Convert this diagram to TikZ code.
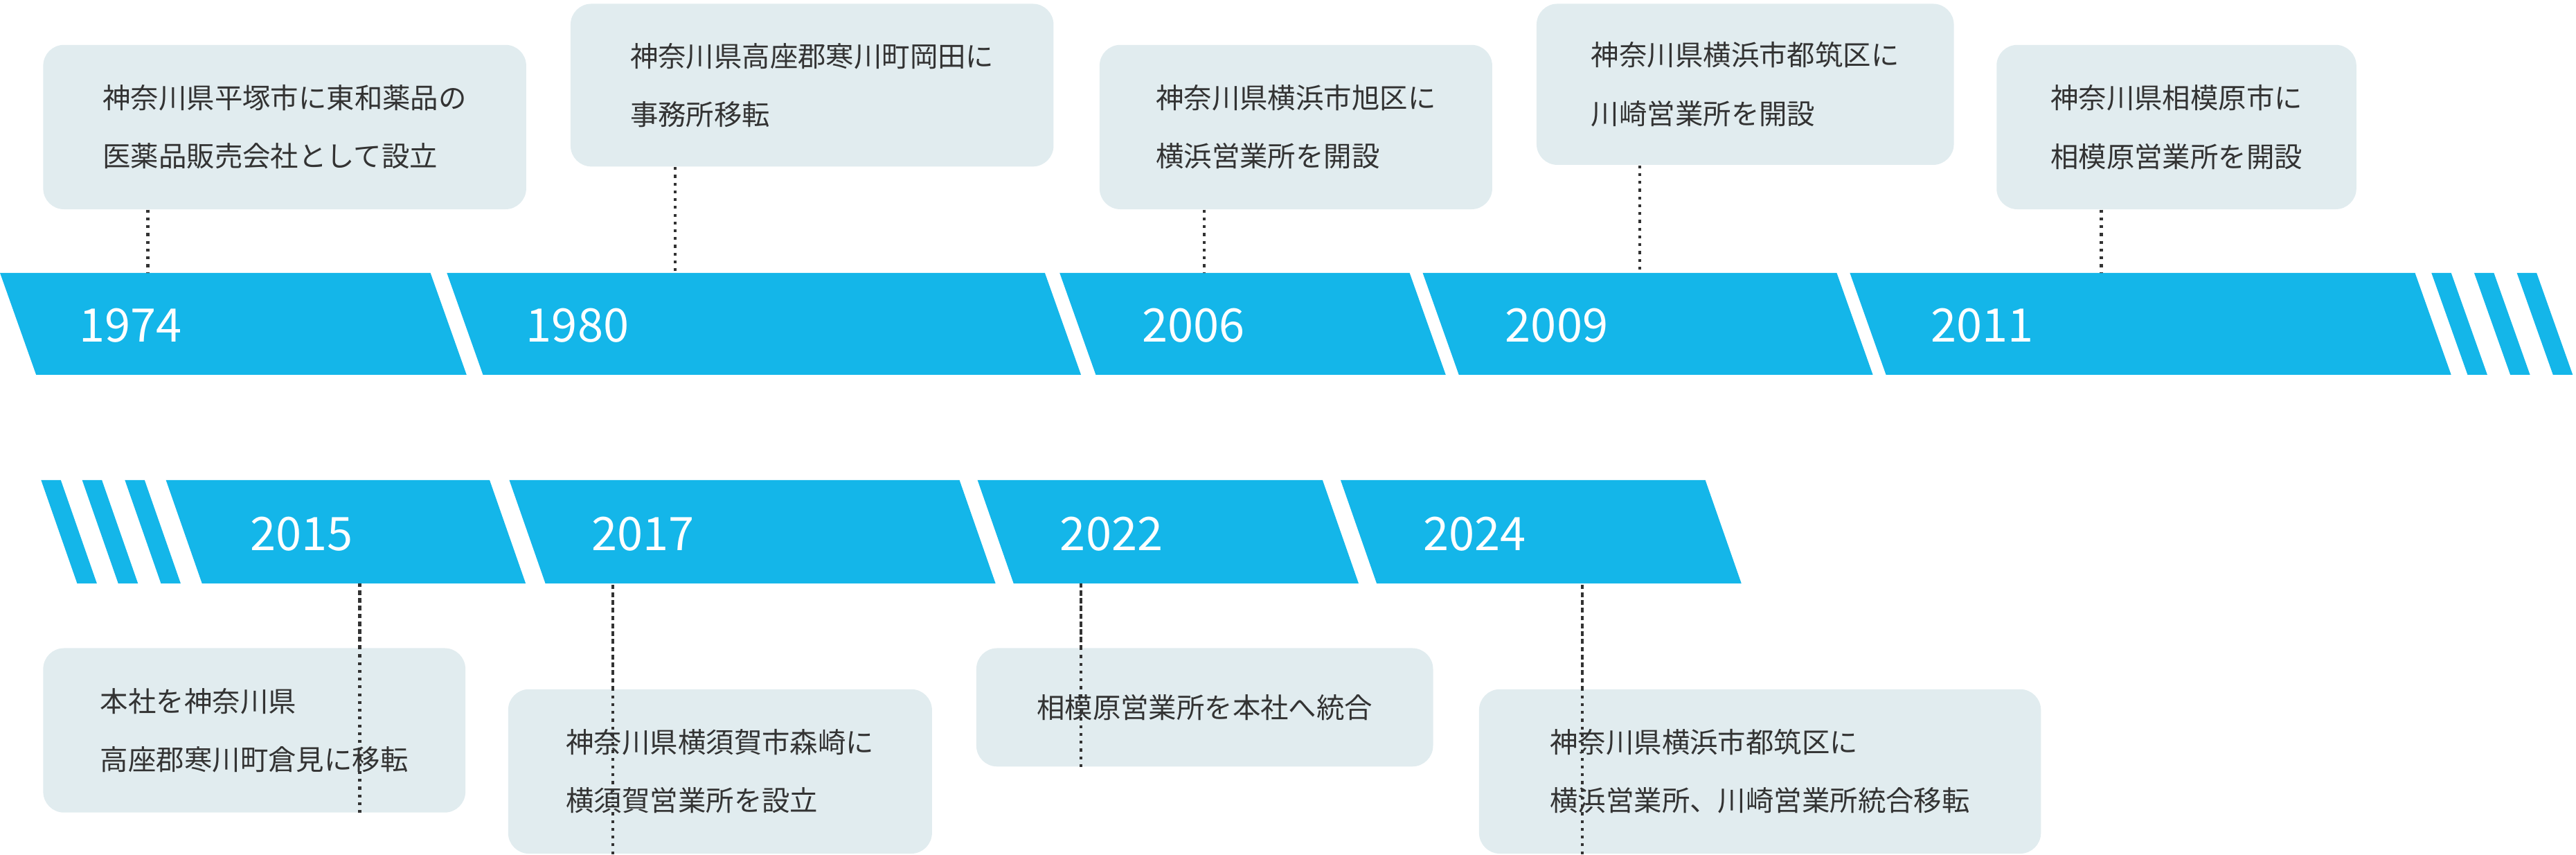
\documentclass[tikz,border=0pt]{standalone}
\usepackage{fontspec}
\setmainfont{Noto Sans CJK JP}
\definecolor{bandblue}{HTML}{14B6E9}
\definecolor{boxgray}{HTML}{E1ECEF}
\definecolor{textgray}{HTML}{333333}
\tikzset{
  band/.style={fill=bandblue, draw=none},
  year/.style={text=white, font=\fontsize{19}{19}\selectfont, anchor=west, inner sep=0pt},
  infobox/.style={fill=boxgray, rounded corners=0.3cm, anchor=north west, inner xsep=0.6cm,
    align=left, text=textgray, font=\fontsize{11.5}{24}\selectfont},
  dotline/.style={draw=textgray, line width=1.2pt, dotted}
}
\begin{document}
\begin{tikzpicture}[x=0.02372cm, y=-0.02372cm]
  \useasboundingbox (0,0) rectangle (1568,520);
  % first row band
  \foreach \a/\b in {0/262, 272/636, 645/858, 866/1118, 1126/1470, 1480/1492, 1506/1518, 1532/1544}
    \fill[band] (\a,166) -- (\b,166) -- (\b+22,228) -- (\a+22,228) -- cycle;
  % second row band
  \foreach \a/\b in {25/37, 50/62, 76/88, 101/298, 310/584, 595/805, 816/1038}
    \fill[band] (\a,292) -- (\b,292) -- (\b+22,355) -- (\a+22,355) -- cycle;
  % years
  \node[year] (y1974) at (48,198) {1974};
  \node[year] (y1980) at (320,198) {1980};
  \node[year] (y2006) at (695,198) {2006};
  \node[year] (y2009) at (916,198) {2009};
  \node[year] (y2011) at (1175,198) {2011};
  \node[year] (y2015) at (152,325) {2015};
  \node[year] (y2017) at (360,325) {2017};
  \node[year] (y2022) at (645,325) {2022};
  \node[year] (y2024) at (866,325) {2024};
  % boxes
  \node[infobox, minimum width=294*0.02372cm, minimum height=100*0.02372cm] (b1974) at (26,27)
    {神奈川県平塚市に東和薬品の\\医薬品販売会社として設立};
  \node[infobox, minimum width=294*0.02372cm, minimum height=99*0.02372cm] (b1980) at (347,2)
    {神奈川県高座郡寒川町岡田に\\事務所移転};
  \node[infobox, minimum width=239*0.02372cm, minimum height=100*0.02372cm] (b2006) at (669,27)
    {神奈川県横浜市旭区に\\横浜営業所を開設};
  \node[infobox, minimum width=254*0.02372cm, minimum height=98*0.02372cm] (b2009) at (935,2)
    {神奈川県横浜市都筑区に\\川崎営業所を開設};
  \node[infobox, minimum width=219*0.02372cm, minimum height=100*0.02372cm] (b2011) at (1215,27)
    {神奈川県相模原市に\\相模原営業所を開設};
  \node[infobox, minimum width=257*0.02372cm, minimum height=100*0.02372cm] (b2015) at (26,394)
    {本社を神奈川県\\高座郡寒川町倉見に移転};
  \node[infobox, minimum width=258*0.02372cm, minimum height=100*0.02372cm] (b2017) at (309,419)
    {神奈川県横須賀市森崎に\\横須賀営業所を設立};
  \node[infobox, minimum width=278*0.02372cm, minimum height=72*0.02372cm] (b2022) at (594,394)
    {相模原営業所を本社へ統合};
  \node[infobox, minimum width=342*0.02372cm, minimum height=100*0.02372cm] (b2024) at (900,419)
    {神奈川県横浜市都筑区に\\横浜営業所、川崎営業所統合移転};
  % connectors
  \foreach \n/\x in {1974/90, 1980/411, 2006/733, 2009/998, 2011/1279}
    \coordinate (t\n) at (\x,166);
  \foreach \n/\x in {2015/219, 2017/373, 2022/658, 2024/963}
    \coordinate (t\n) at (\x,355);
  \foreach \n in {1974, 1980, 2006, 2009, 2011, 2015, 2017, 2022, 2024}
    \draw[dotline] ([yshift=-0.9cm]t\n |- b\n.south) ++(0,0) (b\n.south -| t\n) -- (t\n);
  \foreach \n in {2015, 2017, 2022, 2024}
    \draw[dotline] (b\n.north -| t\n) -- (t\n);
\end{tikzpicture}
\end{document}
